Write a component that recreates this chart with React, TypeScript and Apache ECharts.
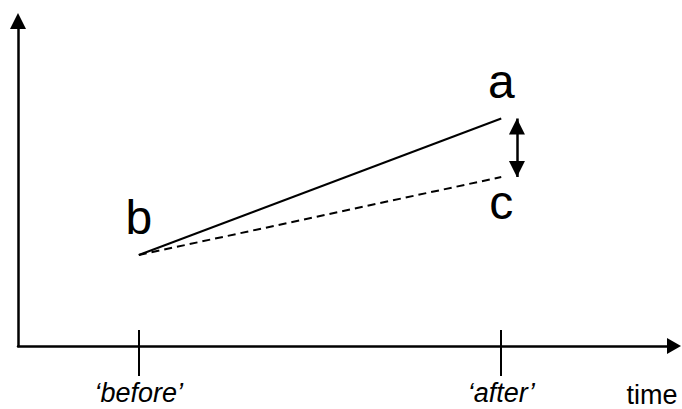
import { useEffect, useRef } from "react";
import * as echarts from "echarts";

// ---- data ----
const xRange = [0, 5.43];
const yRange = [0, 10];
const tickValues = [1, 4];
const tickLabels = ["\u2018before\u2019", "\u2018after\u2019"];
const axisName = "time";
const solidLine = [
  [1, 2.8],
  [4, 7.0],
];
const dashedLine = [
  [1, 2.8],
  [4, 5.2],
];
const pointLabels = { start: "b", solidEnd: "a", dashedEnd: "c" };
const gapArrowX = 4.13;

const FONT = "'Liberation Sans', Arial, sans-serif";
const BLACK = "#000";
// arrow head whose tip sits at the symbol centre (phantom move-to extends the box)
const TIP_ARROW = "path://M0,0 L8,16 L-8,16 Z M0,-16";

export default function App() {
  const ref = useRef<HTMLDivElement>(null);

  useEffect(() => {
    const chart = echarts.init(ref.current!, null, { renderer: "svg" });

    const bigLabel = (text: string, position: string, distance: number) => ({
      show: true,
      formatter: text,
      position,
      distance,
      color: BLACK,
      fontSize: 48,
      fontFamily: FONT,
    });

    const option: any = {
      animation: false,
      backgroundColor: "#fff",
      grid: {
        left: 18,
        right: 8,
        top: 21,
        bottom: 63,
        containLabel: false,
        outerBoundsMode: "none",
      },
      xAxis: [
        {
          type: "value",
          min: xRange[0],
          max: xRange[1],
          position: "bottom",
          name: axisName,
          nameLocation: "end",
          nameGap: -22,
          nameTextStyle: {
            color: BLACK,
            fontSize: 27,
            lineHeight: 22,
            fontFamily: FONT,
            align: "center",
            verticalAlign: "top",
            padding: [38, 0, 0, 0],
          },
          axisLine: {
            show: true,
            symbol: ["none", "triangle"],
            symbolSize: [16, 14],
            lineStyle: { color: BLACK, width: 2.5 },
          },
          axisTick: {
            show: true,
            inside: false,
            length: 30,
            customValues: tickValues,
            lineStyle: { color: BLACK, width: 2 },
          },
          axisLabel: {
            show: true,
            customValues: tickValues,
            margin: 36,
            color: BLACK,
            fontSize: 27,
            lineHeight: 22,
            fontStyle: "italic",
            fontFamily: FONT,
            formatter: (v: number) => {
              const i = tickValues.indexOf(v);
              return i >= 0 ? tickLabels[i] : "";
            },
          },
          splitLine: { show: false },
        },
        {
          type: "value",
          min: xRange[0],
          max: xRange[1],
          position: "bottom",
          axisLine: { show: false },
          axisTick: {
            show: true,
            inside: true,
            length: 16,
            customValues: tickValues,
            lineStyle: { color: BLACK, width: 2 },
          },
          axisLabel: { show: false },
          splitLine: { show: false },
        },
      ],
      yAxis: {
        type: "value",
        min: yRange[0],
        max: yRange[1],
        axisLine: {
          show: true,
          symbol: ["none", "triangle"],
          symbolSize: [16, 16],
          lineStyle: { color: BLACK, width: 2.5 },
        },
        axisTick: { show: false },
        axisLabel: { show: false },
        splitLine: { show: false },
      },
      series: [
        {
          type: "line",
          xAxisIndex: 0,
          data: [
            { value: solidLine[0], label: bigLabel(pointLabels.start, "top", 13) },
            { value: solidLine[1], label: bigLabel(pointLabels.solidEnd, "top", 13) },
          ],
          symbol: "circle",
          symbolSize: 1,
          itemStyle: { color: "rgba(0,0,0,0)" },
          lineStyle: { color: BLACK, width: 2 },
          silent: true,
        },
        {
          type: "line",
          xAxisIndex: 0,
          data: [
            { value: dashedLine[0] },
            { value: dashedLine[1], label: bigLabel(pointLabels.dashedEnd, "bottom", 1) },
          ],
          symbol: "circle",
          symbolSize: 1,
          itemStyle: { color: "rgba(0,0,0,0)" },
          lineStyle: { color: BLACK, width: 2, type: [8, 5] },
          silent: true,
          markLine: {
            silent: true,
            symbol: [TIP_ARROW, TIP_ARROW],
            symbolSize: [16, 32],
            label: { show: false },
            lineStyle: { color: BLACK, width: 2.5, type: "solid" },
            data: [
              [
                { coord: [gapArrowX, solidLine[1][1]] },
                { coord: [gapArrowX, dashedLine[1][1]] },
              ],
            ],
          },
        },
      ],
    };

    chart.setOption(option);
    return () => chart.dispose();
  }, []);

  return (
    <div
      ref={ref}
      style={{
        position: "fixed",
        left: 0,
        top: 0,
        width: 682,
        height: 409,
        background: "#fff",
      }}
    />
  );
}
